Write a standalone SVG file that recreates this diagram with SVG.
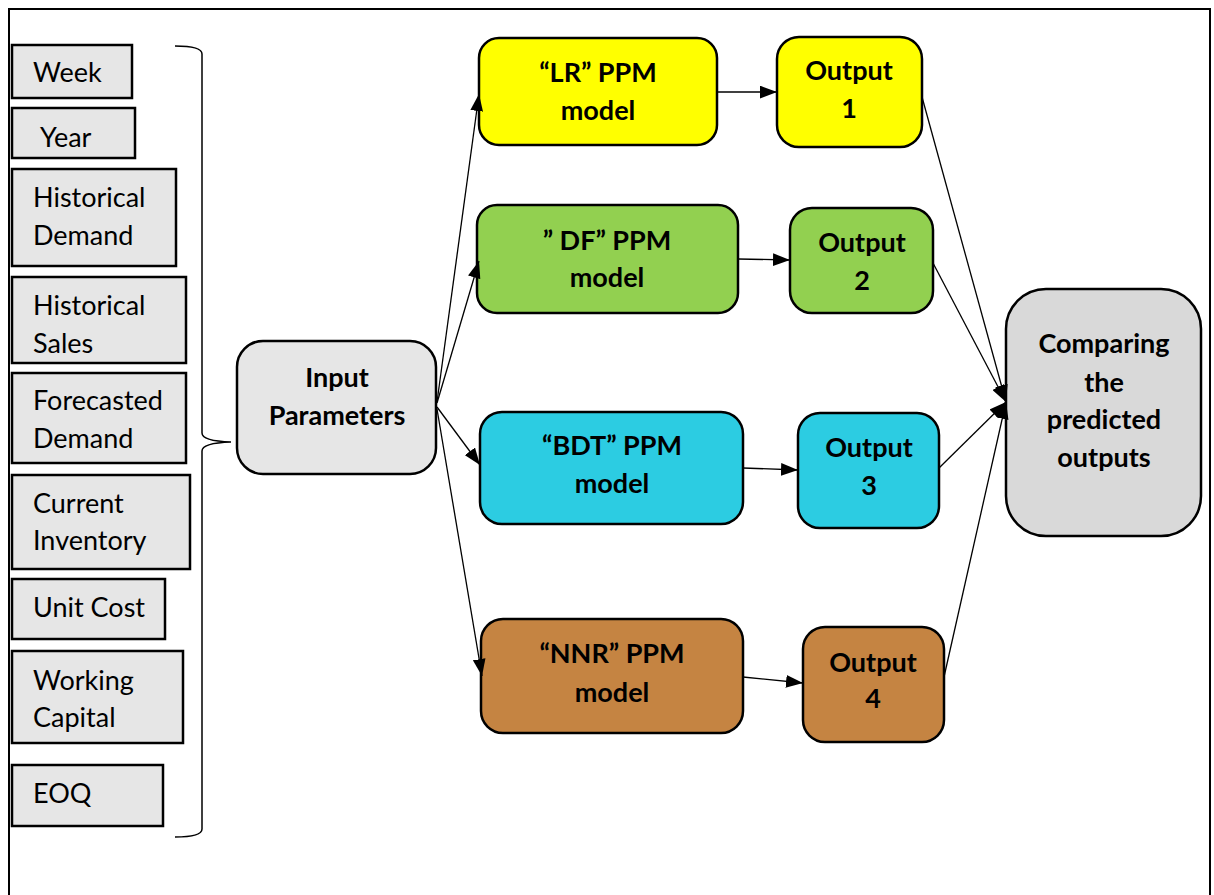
<svg xmlns="http://www.w3.org/2000/svg" width="1214" height="895" viewBox="0 0 1214 895">
  <defs>
    <marker id="arrow" viewBox="0 0 16 12" refX="16" refY="6" markerWidth="17" markerHeight="13" markerUnits="userSpaceOnUse" orient="auto">
      <path d="M0,0 L16,6 L0,12 Z" fill="#000"/>
    </marker>
    <style>
      .param { fill: #e6e6e6; stroke: #000; stroke-width: 2.5; }
      .node { stroke: #000; stroke-width: 2.5; }
      .ptxt { font-family: Lato, "Liberation Sans", sans-serif; font-size: 27px; fill: #000; }
      .btxt { font-family: Lato, "Liberation Sans", sans-serif; font-size: 27px; font-weight: bold; fill: #000; text-anchor: middle; }
      .conn { stroke: #000; stroke-width: 1.3; fill: none; marker-end: url(#arrow); }
    </style>
  </defs>

  <rect width="1214" height="895" fill="#fff"/>
  <!-- outer frame (open at the bottom) -->
  <path d="M9,895 V9 H1210 V895" fill="none" stroke="#000" stroke-width="2"/>

  <!-- input parameter boxes -->
  <g id="p-week"><rect class="param" x="12" y="45" width="120" height="53"/><text class="ptxt" x="33" y="82">Week</text></g>
  <g id="p-year"><rect class="param" x="12" y="108" width="123" height="50"/><text class="ptxt" x="40" y="147">Year</text></g>
  <g id="p-hdemand"><rect class="param" x="12" y="169" width="164" height="97"/><text class="ptxt" x="33" y="207">Historical</text><text class="ptxt" x="33" y="245">Demand</text></g>
  <g id="p-hsales"><rect class="param" x="12" y="277" width="174" height="86"/><text class="ptxt" x="33" y="315">Historical</text><text class="ptxt" x="33" y="353">Sales</text></g>
  <g id="p-fdemand"><rect class="param" x="12" y="373" width="174" height="90"/><text class="ptxt" x="33" y="410">Forecasted</text><text class="ptxt" x="33" y="448">Demand</text></g>
  <g id="p-inventory"><rect class="param" x="12" y="475" width="178" height="94"/><text class="ptxt" x="33" y="513">Current</text><text class="ptxt" x="33" y="550">Inventory</text></g>
  <g id="p-unitcost"><rect class="param" x="12" y="579" width="153" height="60"/><text class="ptxt" x="33" y="617">Unit Cost</text></g>
  <g id="p-capital"><rect class="param" x="12" y="651" width="171" height="92"/><text class="ptxt" x="33" y="690">Working</text><text class="ptxt" x="33" y="727">Capital</text></g>
  <g id="p-eoq"><rect class="param" x="12" y="765" width="151" height="61"/><text class="ptxt" x="33" y="803">EOQ</text></g>

  <!-- curly brace grouping the parameters -->
  <path id="brace" d="M175,46 Q202,46 202,54 V433 Q202,441 231,442 Q202,443 202,451 V829 Q202,837 175,837" fill="none" stroke="#000" stroke-width="1.5"/>

  <!-- process nodes -->
  <g id="input">
    <rect class="node" x="237" y="341" width="199" height="133" rx="26" fill="#e6e6e6"/>
    <text class="btxt" x="337" y="387">Input</text>
    <text class="btxt" x="337" y="425">Parameters</text>
  </g>
  <g id="lr">
    <rect class="node" x="479" y="38" width="238" height="107" rx="20" fill="#ffff00"/>
    <text class="btxt" x="598" y="82">“LR” PPM</text>
    <text class="btxt" x="598" y="120">model</text>
  </g>
  <g id="df">
    <rect class="node" x="477" y="205" width="261" height="108" rx="20" fill="#92d050"/>
    <text class="btxt" x="607" y="250">” DF” PPM</text>
    <text class="btxt" x="607" y="287">model</text>
  </g>
  <g id="bdt">
    <rect class="node" x="480" y="412" width="263" height="112" rx="22" fill="#2ccce2"/>
    <text class="btxt" x="612" y="455">“BDT” PPM</text>
    <text class="btxt" x="612" y="493">model</text>
  </g>
  <g id="nnr">
    <rect class="node" x="481" y="619" width="262" height="114" rx="22" fill="#c58442"/>
    <text class="btxt" x="612" y="663">“NNR” PPM</text>
    <text class="btxt" x="612" y="702">model</text>
  </g>
  <g id="out1">
    <rect class="node" x="777" y="37" width="145" height="110" rx="22" fill="#ffff00"/>
    <text class="btxt" x="849" y="80">Output</text>
    <text class="btxt" x="849" y="118">1</text>
  </g>
  <g id="out2">
    <rect class="node" x="790" y="208" width="143" height="105" rx="22" fill="#92d050"/>
    <text class="btxt" x="862" y="252">Output</text>
    <text class="btxt" x="862" y="290">2</text>
  </g>
  <g id="out3">
    <rect class="node" x="798" y="413" width="141" height="115" rx="22" fill="#2ccce2"/>
    <text class="btxt" x="869" y="457">Output</text>
    <text class="btxt" x="869" y="495">3</text>
  </g>
  <g id="out4">
    <rect class="node" x="803" y="627" width="141" height="115" rx="22" fill="#c58442"/>
    <text class="btxt" x="873" y="672">Output</text>
    <text class="btxt" x="873" y="708">4</text>
  </g>
  <g id="compare">
    <rect class="node" x="1006" y="289" width="195" height="247" rx="40" fill="#d9d9d9"/>
    <text class="btxt" x="1104" y="353">Comparing</text>
    <text class="btxt" x="1104" y="392">the</text>
    <text class="btxt" x="1104" y="429">predicted</text>
    <text class="btxt" x="1104" y="467">outputs</text>
  </g>

  <!-- connectors -->
  <g id="connectors">
    <line class="conn" x1="437" y1="402" x2="479" y2="94"/>
    <line class="conn" x1="437" y1="403" x2="479" y2="261"/>
    <line class="conn" x1="437" y1="407" x2="480" y2="465"/>
    <line class="conn" x1="437" y1="409" x2="482" y2="676"/>
    <line class="conn" x1="717" y1="92" x2="777" y2="92"/>
    <line class="conn" x1="738" y1="259" x2="790" y2="260"/>
    <line class="conn" x1="743" y1="468" x2="798" y2="470"/>
    <line class="conn" x1="743" y1="677" x2="803" y2="683"/>
    <line class="conn" x1="922" y1="97" x2="1006" y2="402"/>
    <line class="conn" x1="933" y1="263" x2="1006" y2="402"/>
    <line class="conn" x1="939" y1="468" x2="1006" y2="402"/>
    <line class="conn" x1="944" y1="677" x2="1006" y2="402"/>
  </g>
</svg>
